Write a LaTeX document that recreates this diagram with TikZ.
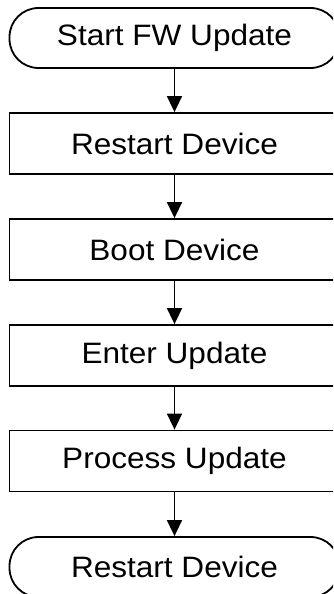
\documentclass[tikz,border=0pt]{standalone}
\usepackage{fontspec}
\usepackage{graphicx}
\setmainfont{Liberation Sans}
\usetikzlibrary{arrows.meta}
\newcommand{\lbl}[1]{\scalebox{1.07}[1]{#1}}
\tikzset{
  procbox/.style={draw, line width=1.8pt, rectangle, minimum width=330pt, minimum height=61pt, inner sep=0pt, font=\fontsize{29.5}{34}\selectfont},
  termbox/.style={draw, line width=1.8pt, rectangle, rounded corners=29pt, minimum width=330pt, minimum height=60pt, inner sep=0pt, font=\fontsize{29.5}{34}\selectfont},
  flow/.style={line width=1.6pt, -{Triangle[length=16pt,width=15pt]}}
}
\begin{document}
\begin{tikzpicture}[x=1pt,y=-1pt]
\useasboundingbox (0,0) rectangle (333,594);
\clip (0,0) rectangle (333,594);
\node[termbox] (start) at (174.5,38) {\lbl{Start FW Update}};
\node[procbox] (restart) at (174.5,143.5) {\lbl{Restart Device}};
\node[procbox] (boot) at (174.5,249.5) {\lbl{Boot Device}};
\node[procbox] (enter) at (174.5,355.5) {\lbl{Enter Update}};
\node[procbox] (process) at (174.5,461) {\lbl{Process Update}};
\node[termbox] (end) at (174.5,567) {\lbl{Restart Device}};
\draw[flow] (start) -- (restart);
\draw[flow] (restart) -- (boot);
\draw[flow] (boot) -- (enter);
\draw[flow] (enter) -- (process);
\draw[flow] (process) -- (end);
\end{tikzpicture}
\end{document}
